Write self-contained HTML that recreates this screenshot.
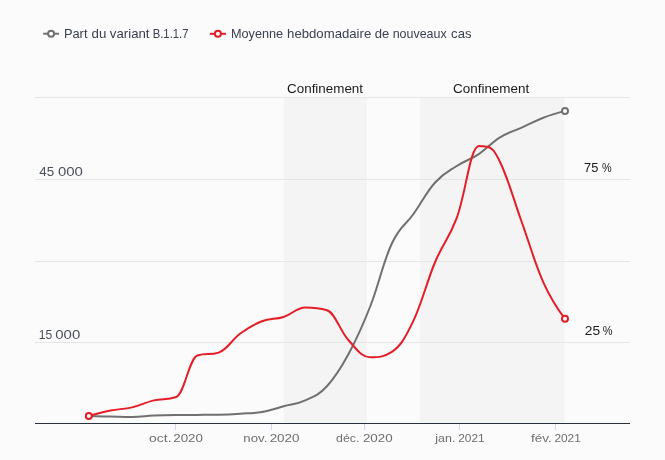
<!DOCTYPE html>
<html><head><meta charset="utf-8">
<style>
html,body{margin:0;padding:0;}
body{width:665px;height:460px;overflow:hidden;background:#fbfbfb;font-family:"Liberation Sans",sans-serif;}
svg{display:block;will-change:transform;}
text{font-family:"Liberation Sans",sans-serif;}
</style></head><body>
<svg width="665" height="460" viewBox="0 0 665 460">
<rect x="0" y="0" width="665" height="460" fill="#fbfbfb"/>
<!-- plot bands -->
<rect x="283.8" y="97" width="83.2" height="326.5" fill="#f4f4f4"/>
<rect x="420" y="97" width="144.4" height="326.5" fill="#f4f4f4"/>
<!-- grid -->
<g stroke="#e6e6e6" stroke-width="1" shape-rendering="crispEdges">
<line x1="35" x2="630" y1="97.5" y2="97.5"/>
<line x1="35" x2="630" y1="179.5" y2="179.5"/>
<line x1="35" x2="630" y1="261.5" y2="261.5"/>
<line x1="35" x2="630" y1="342.5" y2="342.5"/>
</g>
<!-- ticks -->
<g stroke="#ccd6eb" stroke-width="1" shape-rendering="crispEdges">
<line x1="175.5" x2="175.5" y1="424" y2="430"/>
<line x1="271.5" x2="271.5" y1="424" y2="430"/>
<line x1="364.5" x2="364.5" y1="424" y2="430"/>
<line x1="459.5" x2="459.5" y1="424" y2="430"/>
<line x1="555.5" x2="555.5" y1="424" y2="430"/>
</g>
<!-- series -->
<path d="M88.80,416.00C88.80,416.00 101.79,416.38 110.45,416.60C119.10,416.82 123.43,417.10 132.09,417.10C140.75,417.10 145.08,416.02 153.74,415.60C162.39,415.18 166.72,415.10 175.38,415.00C184.04,414.90 188.37,414.96 197.03,414.90C205.69,414.84 210.01,414.90 218.67,414.70C227.33,414.50 231.66,414.26 240.32,413.70C248.98,413.14 253.31,413.38 261.96,411.90C270.62,410.42 274.95,408.60 283.61,406.30C292.27,404.00 296.60,404.42 305.25,400.40C313.91,396.38 318.24,395.48 326.90,386.20C335.56,376.92 339.89,369.94 348.55,354.00C357.20,338.06 361.53,328.60 370.19,306.50C378.85,284.40 383.18,262.00 391.84,243.50C400.49,225.00 404.82,226.20 413.48,214.00C422.14,201.80 426.47,192.10 435.13,182.50C443.79,172.90 448.11,171.64 456.77,166.00C465.43,160.36 469.76,160.04 478.42,154.30C487.08,148.56 491.41,142.64 500.06,137.30C508.72,131.96 513.05,131.52 521.71,127.60C530.37,123.68 534.70,121.04 543.35,117.70C552.01,114.36 565.00,110.90 565.00,110.90" fill="none" stroke="#707070" stroke-width="2" stroke-linejoin="round" stroke-linecap="round"/>
<path d="M88.80,416.00C88.80,416.00 101.79,412.22 110.45,410.50C119.10,408.78 123.43,409.42 132.09,407.40C140.75,405.38 145.08,402.44 153.74,400.40C162.71,398.28 167.20,400.40 176.18,397.00C184.68,393.60 188.93,358.40 197.43,355.50C205.93,352.60 210.17,355.50 218.67,352.60C227.33,349.70 231.66,339.78 240.32,333.50C248.98,327.22 253.31,324.50 261.96,321.20C270.62,317.90 274.95,319.74 283.61,317.00C292.27,314.26 296.60,307.50 305.25,307.50C313.91,307.50 318.24,307.50 326.90,310.30C335.56,313.10 339.89,330.90 348.55,340.30C357.20,349.70 361.53,357.30 370.19,357.30C378.85,357.30 383.18,357.30 391.84,351.80C400.49,346.30 404.82,338.56 413.48,320.60C422.14,302.64 426.47,282.56 435.13,262.00C443.79,241.44 448.11,240.68 456.77,217.80C465.67,194.28 470.12,146.00 479.02,146.00C481.65,146.00 482.97,146.00 485.60,146.40C491.39,146.80 494.28,149.89 500.06,162.00C508.72,180.13 513.05,197.94 521.71,222.00C530.37,246.06 534.70,262.94 543.35,282.30C552.01,301.66 565.00,318.80 565.00,318.80" fill="none" stroke="#e41e27" stroke-width="2" stroke-linejoin="round" stroke-linecap="round"/>
<!-- axis line -->
<line x1="35" x2="630" y1="423.5" y2="423.5" stroke="#2a303b" stroke-width="1" shape-rendering="crispEdges"/>
<!-- markers -->
<circle cx="88.8" cy="416" r="3" fill="#fff" stroke="#e41e27" stroke-width="2"/>
<circle cx="565" cy="110.9" r="3" fill="#fff" stroke="#707070" stroke-width="2"/>
<circle cx="565" cy="318.8" r="3" fill="#fff" stroke="#e41e27" stroke-width="2"/>
<!-- legend -->
<line x1="43.2" x2="59.1" y1="33.7" y2="33.7" stroke="#707070" stroke-width="2"/>
<circle cx="51.1" cy="33.7" r="3" fill="#fff" stroke="#707070" stroke-width="2"/>
<line x1="209.8" x2="226" y1="33.8" y2="33.8" stroke="#e41e27" stroke-width="2"/>
<circle cx="217.9" cy="33.8" r="3" fill="#fff" stroke="#e41e27" stroke-width="2"/>
<!-- texts -->
<text x="63.9" y="38" font-size="13" textLength="23.58" lengthAdjust="spacingAndGlyphs" fill="#383f4e">Part</text>
<text x="91.5" y="38" font-size="13" textLength="14.8" lengthAdjust="spacingAndGlyphs" fill="#383f4e">du</text>
<text x="109.85" y="38" font-size="13" textLength="39.69" lengthAdjust="spacingAndGlyphs" fill="#383f4e">variant</text>
<text x="152.7" y="38" font-size="13" textLength="35.78" lengthAdjust="spacingAndGlyphs" fill="#383f4e">B.1.1.7</text>
<text x="230.9" y="38" font-size="13" textLength="52.3" lengthAdjust="spacingAndGlyphs" fill="#383f4e">Moyenne</text>
<text x="287.1" y="38" font-size="13" textLength="84.14" lengthAdjust="spacingAndGlyphs" fill="#383f4e">hebdomadaire</text>
<text x="374.8" y="38" font-size="13" textLength="14.47" lengthAdjust="spacingAndGlyphs" fill="#383f4e">de</text>
<text x="392.65" y="38" font-size="13" textLength="53.99" lengthAdjust="spacingAndGlyphs" fill="#383f4e">nouveaux</text>
<text x="451.1" y="38" font-size="13" textLength="20.39" lengthAdjust="spacingAndGlyphs" fill="#383f4e">cas</text>
<text x="287.05" y="93" font-size="13" textLength="75.99" lengthAdjust="spacingAndGlyphs" fill="#1a1a1a">Confinement</text>
<text x="453.05" y="93" font-size="13" textLength="76.14" lengthAdjust="spacingAndGlyphs" fill="#1a1a1a">Confinement</text>
<text x="39.25" y="176" font-size="13" textLength="14.94" lengthAdjust="spacingAndGlyphs" fill="#4a4f5a">45</text>
<text x="57.9" y="176" font-size="13" textLength="25.0" lengthAdjust="spacingAndGlyphs" fill="#4a4f5a">000</text>
<text x="38.7" y="339" font-size="13" textLength="13.53" lengthAdjust="spacingAndGlyphs" fill="#4a4f5a">15</text>
<text x="55.3" y="339" font-size="13" textLength="25.0" lengthAdjust="spacingAndGlyphs" fill="#4a4f5a">000</text>
<text x="584.05" y="171.8" font-size="12.5" textLength="14.24" lengthAdjust="spacingAndGlyphs" fill="#1a1a1a">75</text>
<text x="601.9" y="171.8" font-size="12.5" textLength="9.66" lengthAdjust="spacingAndGlyphs" fill="#1a1a1a">%</text>
<text x="584.75" y="334.9" font-size="12.5" textLength="15.3" lengthAdjust="spacingAndGlyphs" fill="#1a1a1a">25</text>
<text x="602.7" y="334.9" font-size="12.5" textLength="9.77" lengthAdjust="spacingAndGlyphs" fill="#1a1a1a">%</text>
<text x="149.0" y="442.2" font-size="11.3" textLength="22.52" lengthAdjust="spacingAndGlyphs" fill="#6e6e6e">oct.</text>
<text x="173.25" y="442.2" font-size="11.3" textLength="29.7" lengthAdjust="spacingAndGlyphs" fill="#6e6e6e">2020</text>
<text x="243.3" y="442.2" font-size="11.3" textLength="24.02" lengthAdjust="spacingAndGlyphs" fill="#6e6e6e">nov.</text>
<text x="269.65" y="442.2" font-size="11.3" textLength="29.91" lengthAdjust="spacingAndGlyphs" fill="#6e6e6e">2020</text>
<text x="336.0" y="442.2" font-size="11.3" textLength="23.42" lengthAdjust="spacingAndGlyphs" fill="#6e6e6e">déc.</text>
<text x="362.95" y="442.2" font-size="11.3" textLength="29.7" lengthAdjust="spacingAndGlyphs" fill="#6e6e6e">2020</text>
<text x="435.35" y="442.2" font-size="11.3" textLength="20.09" lengthAdjust="spacingAndGlyphs" fill="#6e6e6e">jan.</text>
<text x="458.2" y="442.2" font-size="11.3" textLength="26.49" lengthAdjust="spacingAndGlyphs" fill="#6e6e6e">2021</text>
<text x="531.05" y="442.2" font-size="11.3" textLength="20.8" lengthAdjust="spacingAndGlyphs" fill="#6e6e6e">fév.</text>
<text x="554.4" y="442.2" font-size="11.3" textLength="26.39" lengthAdjust="spacingAndGlyphs" fill="#6e6e6e">2021</text>
</svg>
</body></html>
